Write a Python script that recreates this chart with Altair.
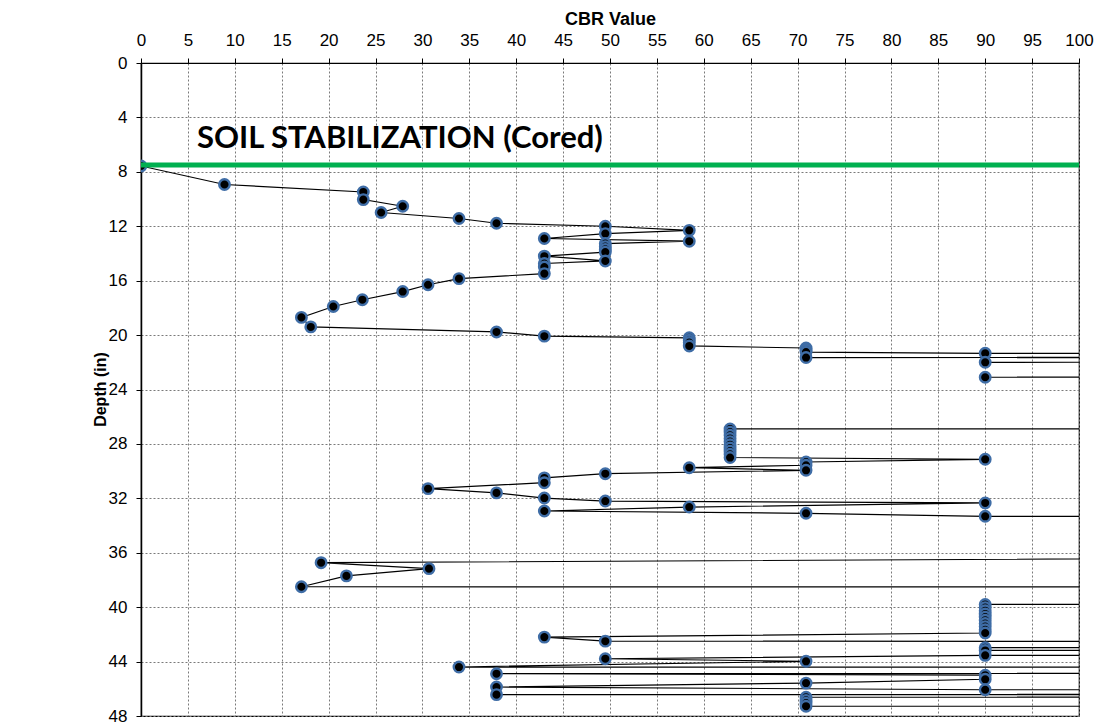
import altair as alt
import pandas as pd

OFF = 1000  # readings beyond the 0-100 axis; their segments are clipped at the right edge

cbr = [
    0, 8.9, 23.7, 23.7, 27.9, 25.6, 33.9, 37.9, 49.5, 58.45,
    49.5, 43.0, 58.45, 49.5, 49.5, 49.5, 49.5, 43.0, 49.5, 43.0,
    43.0, 43.0, 33.9, 30.6, 27.9, 23.6, 20.5, 17.1, 18.1, 37.9,
    43.0, 58.45, 58.45, 58.45, 58.45, 70.9, 70.9, 70.9, 90, OFF,
    70.9, OFF, 90, OFF, 90, OFF, OFF,
    62.8, 62.8, 62.8, 62.8, 62.8, 62.8, 62.8, 62.8, 62.8, 62.8,
    90, 70.9, 70.9, 58.45, 70.9, 49.5, 43.0, 43.0, 30.6, 37.9,
    43.0, 49.5, 90, 58.45, 43.0, 70.9, 90, OFF,
    19.2, 30.7, 21.9, 17.1, OFF, OFF,
    90, 90, 90, 90, 90, 90, 90, 90, 90, 90,
    43.0, 49.5, OFF, 90, 90, OFF, 90, 49.5, 70.9, 33.9,
    OFF, 37.9, 90, 90, 70.9, 37.9, 90, OFF, 37.9, OFF,
    70.9, 70.9, 70.9, 70.9, OFF,
]
depth = [
    7.57, 8.93, 9.48, 10.04, 10.53, 10.99, 11.43, 11.78, 12.0, 12.3,
    12.54, 12.9, 13.1, 13.27, 13.5, 13.7, 13.9, 14.2, 14.55, 14.74,
    15.0, 15.48, 15.85, 16.3, 16.8, 17.4, 17.9, 18.7, 19.4, 19.77,
    20.08, 20.2, 20.38, 20.55, 20.8, 20.95, 21.1, 21.25, 21.34, 21.45,
    21.65, 21.8, 22.0, 22.1, 23.1, 23.2, 26.85,
    26.9, 27.13, 27.36, 27.6, 27.83, 28.06, 28.3, 28.53, 28.76, 29.0,
    29.13, 29.33, 29.57, 29.75, 29.94, 30.19, 30.5, 30.85, 31.29, 31.6,
    31.98, 32.2, 32.34, 32.64, 32.93, 33.1, 33.32, 33.4,
    36.73, 37.17, 37.7, 38.5, 38.6, 39.7,
    39.8, 40.03, 40.26, 40.5, 40.73, 40.96, 41.2, 41.43, 41.66, 41.9,
    42.2, 42.5, 42.7, 42.98, 43.18, 43.3, 43.54, 43.79, 43.98, 44.4,
    44.6, 44.89, 45.0, 45.3, 45.58, 45.87, 46.07, 46.2, 46.43, 46.5,
    46.62, 46.85, 47.05, 47.28, 47.35,
]

x_ticks = list(range(0, 101, 5))
y_ticks = list(range(0, 49, 4))
stab_depth = [7.5]
note_text = ["SOIL STABILIZATION (Cored)"]
note_cbr = [5.97]
note_depth = [6.26]

df = pd.DataFrame({"idx": list(range(len(cbr))), "cbr": cbr, "depth": depth})
df_note = pd.DataFrame({"cbr": note_cbr, "depth": note_depth, "text": note_text})
df_stab = pd.DataFrame({"depth": stab_depth})

FONT = "Liberation Sans"

x_enc = alt.X(
    "cbr:Q",
    scale=alt.Scale(domain=[0, 100], nice=False, zero=False),
    axis=alt.Axis(
        orient="top", values=x_ticks, title="CBR Value",
        labelFont=FONT, labelFontSize=17, labelColor="black", labelPadding=9,
        labelFlush=False, labelOverlap=False,
        titleFont=FONT, titleFontSize=18, titleFontWeight="bold", titleColor="black",
        titlePadding=3,
        tickSize=5, tickColor="black", domainColor="black",
        grid=True, gridColor="#7a7a7a", gridDash=[2, 2], gridWidth=1,
    ),
)
y_enc = alt.Y(
    "depth:Q",
    scale=alt.Scale(domain=[0, 48], reverse=True, nice=False, zero=False),
    axis=alt.Axis(
        values=y_ticks, title="Depth (in)",
        labelFont=FONT, labelFontSize=17, labelColor="black", labelPadding=9,
        labelFlush=False, labelOverlap=False,
        titleFont=FONT, titleFontSize=16, titleFontWeight="bold", titleColor="black",
        titleX=-41, titleY=326, titleAngle=-90, titleAlign="center", titleBaseline="middle",
        tickSize=5, tickColor="black", domainColor="black", domainWidth=1.5,
        grid=True, gridColor="#7a7a7a", gridDash=[2, 2], gridWidth=1,
    ),
)

line = alt.Chart(df).mark_line(color="black", strokeWidth=1.2, clip=True).encode(
    x=x_enc, y=y_enc, order=alt.Order("idx:Q")
)

points = alt.Chart(df).transform_filter(alt.datum.cbr <= 100).mark_point(
    shape="circle", filled=True, fill="black", stroke="#3f6da6",
    strokeWidth=2.4, size=110, opacity=1, clip=True,
).encode(x="cbr:Q", y="depth:Q")

stab = alt.Chart(df_stab).mark_rule(color="#00b050", strokeWidth=5).encode(y="depth:Q")

note = alt.Chart(df_note).mark_text(
    font="Lato", fontSize=31, fontWeight="bold", align="left", baseline="alphabetic",
    color="black",
).encode(x="cbr:Q", y="depth:Q", text="text:N")

chart = (
    alt.layer(line, points, stab, note)
    .properties(
        width=938, height=653,
        autosize=alt.AutoSizeParams(type="none"),
        padding={"left": 133, "top": 55, "right": 22, "bottom": 10},
    )
    .configure_view(stroke="black", strokeWidth=1.2)
)

chart.save("out.html", embed_options={"renderer": "svg", "actions": False})
